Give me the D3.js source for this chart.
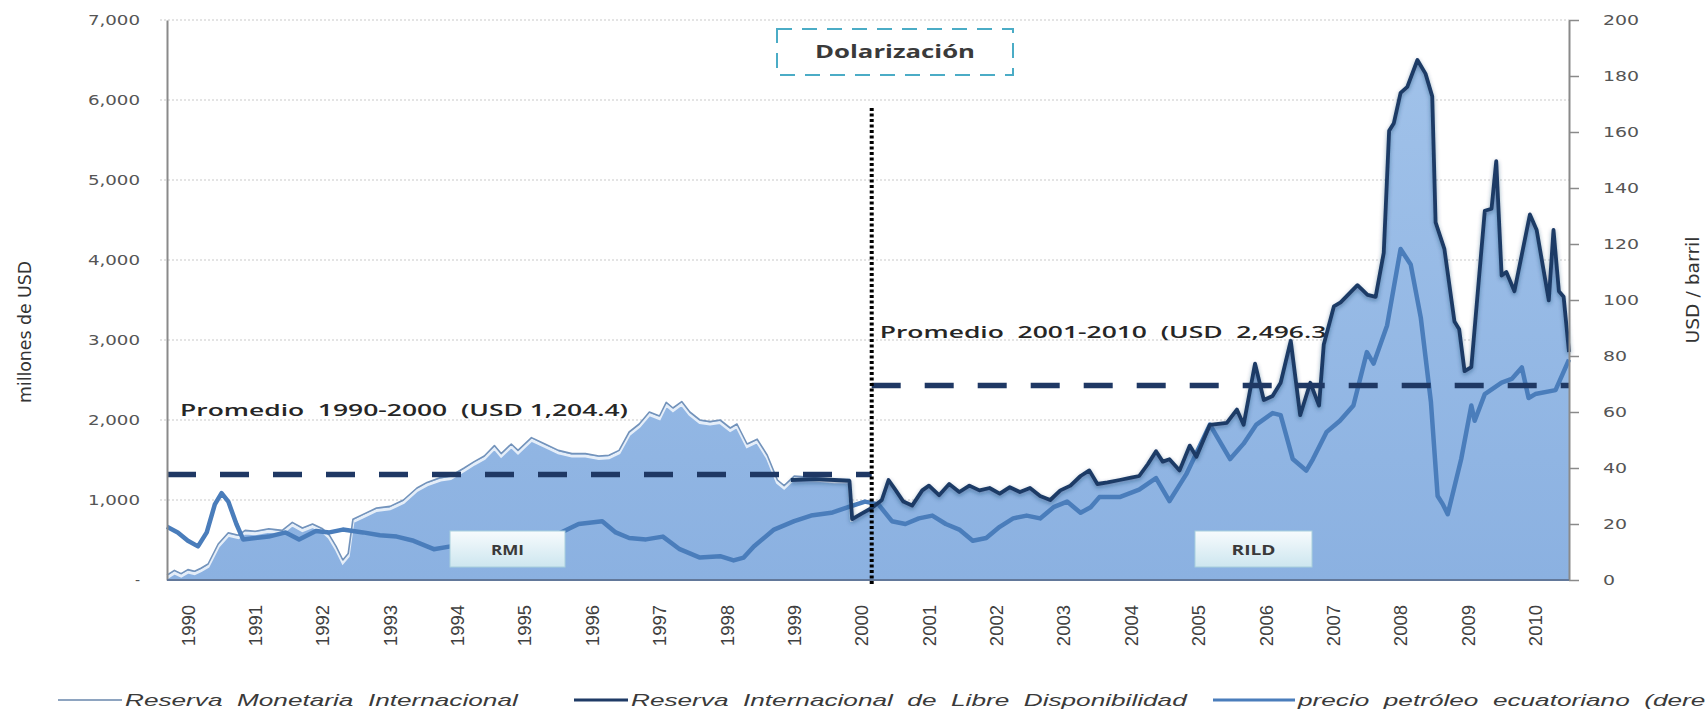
<!DOCTYPE html>
<html>
<head>
<meta charset="utf-8">
<style>
  body { margin: 0; background: #ffffff; }
  svg { display: block; }
</style>
<script src="https://d3js.org/d3.v7.min.js"></script>
</head>
<body>
<script>
// [position on the year axis, value] ; year labels sit on whole numbers
var rmi = [
  [1989.69, 60], [1989.8, 120], [1989.9, 80], [1990.0, 130], [1990.1, 110], [1990.2, 150],
  [1990.3, 200], [1990.45, 450], [1990.6, 590], [1990.75, 560], [1990.85, 620], [1991.0, 610],
  [1991.2, 640], [1991.4, 620], [1991.55, 720], [1991.7, 650], [1991.85, 700], [1992.0, 640],
  [1992.1, 560], [1992.2, 420], [1992.3, 250], [1992.38, 330], [1992.45, 760], [1992.6, 820],
  [1992.8, 900], [1993.0, 920], [1993.2, 1000], [1993.4, 1150], [1993.55, 1220], [1993.75, 1280],
  [1993.9, 1300], [1994.1, 1400], [1994.25, 1480], [1994.4, 1550], [1994.55, 1680], [1994.65, 1580],
  [1994.8, 1700], [1994.9, 1620], [1995.1, 1780], [1995.3, 1700], [1995.5, 1620], [1995.7, 1580],
  [1995.9, 1580], [1996.1, 1550], [1996.25, 1560], [1996.4, 1620], [1996.55, 1850], [1996.7, 1950],
  [1996.85, 2100], [1997.0, 2050], [1997.1, 2220], [1997.2, 2150], [1997.33, 2230], [1997.45, 2100],
  [1997.6, 2000], [1997.75, 1980], [1997.9, 2000], [1998.05, 1900], [1998.15, 1950], [1998.3, 1700],
  [1998.45, 1760], [1998.6, 1560], [1998.75, 1250], [1998.85, 1180], [1999.0, 1300], [1999.3, 1280],
  [1999.6, 1260], [1999.82, 1260], [1999.85, 760]
];

var rild = [
  [1998.95, 1250], [1999.3, 1260], [1999.6, 1250], [1999.82, 1240], [1999.86, 760], [2000.0, 830],
  [2000.15, 900], [2000.3, 1000], [2000.4, 1250], [2000.5, 1130], [2000.62, 980], [2000.75, 930],
  [2000.9, 1120], [2001.0, 1180], [2001.15, 1060], [2001.3, 1200], [2001.45, 1100], [2001.6, 1180],
  [2001.75, 1120], [2001.9, 1150], [2002.05, 1080], [2002.2, 1160], [2002.35, 1100], [2002.5, 1150],
  [2002.65, 1050], [2002.8, 1000], [2002.95, 1120], [2003.1, 1180], [2003.25, 1300], [2003.38, 1370],
  [2003.5, 1200], [2003.65, 1220], [2003.83, 1250], [2004.0, 1280], [2004.12, 1300], [2004.25, 1450],
  [2004.37, 1610], [2004.47, 1480], [2004.57, 1510], [2004.72, 1370], [2004.87, 1680], [2004.97, 1540],
  [2005.17, 1940], [2005.42, 1965], [2005.57, 2130], [2005.67, 1940], [2005.84, 2705], [2005.97, 2250],
  [2006.1, 2300], [2006.22, 2465], [2006.37, 2990], [2006.51, 2060], [2006.66, 2465], [2006.79, 2180],
  [2006.86, 2945], [2007.01, 3420], [2007.11, 3470], [2007.36, 3685], [2007.51, 3565], [2007.63, 3540],
  [2007.75, 4090], [2007.83, 5615], [2007.9, 5710], [2008.0, 6090], [2008.1, 6165], [2008.25, 6500],
  [2008.37, 6330], [2008.47, 6045], [2008.52, 4470], [2008.65, 4140], [2008.8, 3230], [2008.87, 3135],
  [2008.95, 2610], [2009.05, 2660], [2009.25, 4615], [2009.35, 4640], [2009.42, 5235], [2009.5, 3805],
  [2009.57, 3850], [2009.69, 3610], [2009.92, 4570], [2010.02, 4375], [2010.2, 3495], [2010.27, 4375],
  [2010.35, 3610], [2010.42, 3540], [2010.5, 2850]
];

var oil = [
  [1989.69, 19], [1989.85, 17], [1990.0, 14], [1990.15, 12], [1990.28, 17], [1990.4, 27], [1990.5, 31],
  [1990.6, 28], [1990.72, 20], [1990.82, 14.5], [1991.0, 15], [1991.2, 15.5], [1991.45, 17], [1991.65, 14.5],
  [1991.9, 17.5], [1992.1, 17], [1992.3, 18], [1992.6, 17], [1992.85, 16], [1993.1, 15.5], [1993.35, 14],
  [1993.65, 11], [1993.9, 12], [1994.2, 13], [1994.5, 15], [1994.8, 15], [1995.1, 16], [1995.5, 16.5],
  [1995.8, 20], [1996.15, 21], [1996.35, 17], [1996.55, 15], [1996.8, 14.5], [1997.05, 15.5], [1997.3, 11],
  [1997.6, 8], [1997.9, 8.5], [1998.1, 7], [1998.25, 8], [1998.4, 12], [1998.7, 18], [1999.0, 21],
  [1999.25, 23], [1999.55, 24], [1999.8, 26], [2000.05, 28], [2000.25, 27], [2000.45, 21], [2000.65, 20],
  [2000.85, 22], [2001.05, 23], [2001.25, 20], [2001.45, 18], [2001.65, 14], [2001.85, 15], [2002.05, 19],
  [2002.25, 22], [2002.45, 23], [2002.65, 22], [2002.85, 26], [2003.05, 28], [2003.25, 24], [2003.4, 26],
  [2003.53, 29.6], [2003.83, 29.6], [2004.12, 32.3], [2004.37, 36.4], [2004.57, 28.2], [2004.82, 37.8],
  [2005.17, 55.5], [2005.47, 43.2], [2005.67, 48.7], [2005.86, 55.5], [2006.1, 59.6], [2006.22, 58.9],
  [2006.4, 43.2], [2006.6, 39.1], [2006.7, 43.2], [2006.9, 52.8], [2007.1, 56.9], [2007.3, 62.3],
  [2007.5, 81.4], [2007.6, 77.3], [2007.8, 90.9], [2008.0, 118.2], [2008.15, 112.7], [2008.3, 93.7],
  [2008.45, 63.7], [2008.55, 30], [2008.63, 26.9], [2008.7, 23.5], [2008.9, 43.2], [2009.05, 62.3],
  [2009.1, 56.9], [2009.25, 66.4], [2009.5, 70.5], [2009.65, 71.8], [2009.8, 75.9], [2009.9, 65.0],
  [2010.0, 66.4], [2010.3, 67.8], [2010.5, 78.7]
];

var years = d3.range(1990, 2011);
var leftTicks = [0, 1000, 2000, 3000, 4000, 5000, 6000, 7000];
var rightTicks = [0, 20, 40, 60, 80, 100, 120, 140, 160, 180, 200];
var dolarizacion = 2000.15;
var promedios = [
  { label: "Promedio  1990-2000  (USD 1,204.4)", from: 1989.69, to: 2000.15, value: 1320 },
  { label: "Promedio  2001-2010  (USD  2,496.3)", from: 2000.15, to: 2010.5, value: 2430 }
];
var legendItems = ["Reserva  Monetaria  Internacional",
                   "Reserva  Internacional  de  Libre  Disponibilidad",
                   "precio  petróleo  ecuatoriano  (derecha)"];

var W = 1705, H = 709;
var svg = d3.select("body").append("svg").attr("width", W).attr("height", H);
var defs = svg.append("defs");

var grad = defs.append("linearGradient").attr("id", "areaFill")
  .attr("gradientUnits", "userSpaceOnUse").attr("x1", 0).attr("y1", 20).attr("x2", 0).attr("y2", 580);
grad.append("stop").attr("offset", "0%").attr("stop-color", "#a2c3ea");
grad.append("stop").attr("offset", "100%").attr("stop-color", "#8bb1e1");

var boxGrad = defs.append("linearGradient").attr("id", "boxFill")
  .attr("x1", 0).attr("y1", 0).attr("x2", 0).attr("y2", 1);
boxGrad.append("stop").attr("offset", "0%").attr("stop-color", "#f7fbfd");
boxGrad.append("stop").attr("offset", "100%").attr("stop-color", "#cde6ef");

var shadow = defs.append("filter").attr("id", "shadow")
  .attr("x", "-5%").attr("y", "-5%").attr("width", "110%").attr("height", "110%");
shadow.append("feDropShadow").attr("dx", 0).attr("dy", 2).attr("stdDeviation", 2)
  .attr("flood-color", "#1f3864").attr("flood-opacity", 0.45);

var x = d3.scaleLinear().domain([1989.69, 2010.5]).range([167, 1569]);
var yL = d3.scaleLinear().domain([0, 7000]).range([580, 20]);
var yR = d3.scaleLinear().domain([0, 200]).range([580, 20]);

// gridlines
svg.append("g").selectAll("line")
  .data(leftTicks.filter(function(d) { return d > 0; }))
  .enter().append("line")
  .attr("x1", 160).attr("x2", x.range()[1])
  .attr("y1", function(d) { return yL(d); }).attr("y2", function(d) { return yL(d); })
  .attr("stroke", "#c9c9c9").attr("stroke-width", 1).attr("stroke-dasharray", "2,2");

var boldFont = "'Open Sans', 'DejaVu Sans', sans-serif";

// second average label sits under the area
var p2 = promedios[1];
svg.append("text")
  .attr("x", x(p2.from) + 8).attr("y", 338)
  .style("white-space", "pre")
  .attr("font-family", boldFont).attr("font-weight", 600).attr("font-size", 17)
  .attr("fill", "#262626")
  .attr("textLength", 455).attr("lengthAdjust", "spacingAndGlyphs")
  .text(p2.label);

// areas
var area = d3.area()
  .x(function(d) { return x(d[0]); })
  .y0(yL(0))
  .y1(function(d) { return yL(d[1]); });

svg.append("path").datum(rmi).attr("d", area).attr("fill", "url(#areaFill)");
svg.append("path").datum(rild).attr("d", area).attr("fill", "url(#areaFill)");

var lineL = d3.line()
  .x(function(d) { return x(d[0]); })
  .y(function(d) { return yL(d[1]); });
var lineR = d3.line()
  .x(function(d) { return x(d[0]); })
  .y(function(d) { return yR(d[1]); });

// RMI edge with light bevel
svg.append("path").datum(rmi).attr("d", lineL)
  .attr("transform", "translate(0,2.5)")
  .attr("fill", "none").attr("stroke", "#eef4fb").attr("stroke-width", 3).attr("opacity", 0.9);
svg.append("path").datum(rmi).attr("d", lineL)
  .attr("fill", "none").attr("stroke", "#7393bb").attr("stroke-width", 1.6)
  .attr("stroke-linejoin", "round");

// oil price
svg.append("path").datum(oil).attr("d", lineR)
  .attr("fill", "none").attr("stroke", "#4a7dbb").attr("stroke-width", 4.5)
  .attr("stroke-linejoin", "round");

// RILD line
svg.append("path").datum(rild).attr("d", lineL)
  .attr("fill", "none").attr("stroke", "#1f3b66").attr("stroke-width", 3.8)
  .attr("stroke-linejoin", "round").attr("filter", "url(#shadow)");

// label boxes
var boxes = [
  { text: "RMI", x0: 450, x1: 565 },
  { text: "RILD", x0: 1195, x1: 1312 }
];
boxes.forEach(function(b) {
  svg.append("rect")
    .attr("x", b.x0).attr("y", 531).attr("width", b.x1 - b.x0).attr("height", 36)
    .attr("fill", "url(#boxFill)").attr("stroke", "#a8cfdd").attr("stroke-width", 1);
  svg.append("text")
    .attr("x", (b.x0 + b.x1) / 2).attr("y", 555)
    .attr("text-anchor", "middle")
    .attr("font-family", boldFont).attr("font-weight", 700).attr("font-size", 15)
    .attr("fill", "#3a3a3a")
    .attr("textLength", b.text.length * 11).attr("lengthAdjust", "spacingAndGlyphs")
    .text(b.text);
});

// average dashed lines
svg.append("g").selectAll("line")
  .data(promedios).enter().append("line")
  .attr("x1", function(d) { return x(d.from); })
  .attr("x2", function(d) { return x(d.to); })
  .attr("y1", function(d) { return yL(d.value); })
  .attr("y2", function(d) { return yL(d.value); })
  .attr("stroke", "#1f3864").attr("stroke-width", 5.5).attr("stroke-dasharray", "29,24");

// first average label
svg.append("text")
  .attr("x", 180).attr("y", 416)
  .style("white-space", "pre")
  .attr("font-family", boldFont).attr("font-weight", 600).attr("font-size", 17)
  .attr("fill", "#262626")
  .attr("textLength", 448).attr("lengthAdjust", "spacingAndGlyphs")
  .text(promedios[0].label);

// dollarization marker
svg.append("line")
  .attr("x1", x(dolarizacion)).attr("x2", x(dolarizacion))
  .attr("y1", 108).attr("y2", 586)
  .attr("stroke", "#000").attr("stroke-width", 4).attr("stroke-dasharray", "3,2.5");

svg.append("rect")
  .attr("x", 777).attr("y", 29).attr("width", 236).attr("height", 46)
  .attr("fill", "#ffffff").attr("stroke", "#4bacc6").attr("stroke-width", 2)
  .attr("stroke-dasharray", "15,10");
svg.append("text")
  .attr("x", 895).attr("y", 58).attr("text-anchor", "middle")
  .attr("font-family", boldFont).attr("font-weight", 700).attr("font-size", 17)
  .attr("fill", "#3a3a3a")
  .attr("textLength", 160).attr("lengthAdjust", "spacingAndGlyphs")
  .text("Dolarización");

// axes
var numFont = "'DejaVu Sans', Verdana, sans-serif";
var leftAxis = svg.append("g")
  .attr("transform", "translate(167,0)")
  .call(d3.axisLeft(yL).tickValues(leftTicks).tickSize(0).tickPadding(27)
    .tickFormat(function(d) { return d === 0 ? "-" : d3.format(",")(d); }));
leftAxis.select(".domain").attr("stroke", "#8a8a8a").attr("stroke-width", 2);
leftAxis.selectAll("text")
  .attr("font-family", numFont).attr("font-size", 14).attr("fill", "#555")
  .each(function() {
    var t = d3.select(this);
    var len = this.getComputedTextLength();
    if (len > 10) t.attr("textLength", len * 1.3).attr("lengthAdjust", "spacingAndGlyphs");
  });

var rightAxis = svg.append("g")
  .attr("transform", "translate(1569,0)")
  .call(d3.axisRight(yR).tickValues(rightTicks).tickSize(10).tickPadding(24).tickSizeOuter(0));
rightAxis.select(".domain").attr("stroke", "#8a8a8a").attr("stroke-width", 2);
rightAxis.selectAll(".tick line").attr("stroke", "#8a8a8a").attr("stroke-width", 1.5);
rightAxis.selectAll("text")
  .attr("font-family", numFont).attr("font-size", 14).attr("fill", "#555")
  .each(function() {
    var len = this.getComputedTextLength();
    d3.select(this).attr("textLength", len * 1.35).attr("lengthAdjust", "spacingAndGlyphs");
  });

// baseline of the plot
svg.append("line")
  .attr("x1", x.range()[0]).attr("x2", x.range()[1])
  .attr("y1", yL(0)).attr("y2", yL(0))
  .attr("stroke", "#62789a").attr("stroke-width", 2);

// year labels
svg.append("g").selectAll("text")
  .data(years).enter().append("text")
  .attr("transform", function(d) { return "translate(" + x(d) + ",605) rotate(-90)"; })
  .attr("text-anchor", "end").attr("dy", "0.36em")
  .attr("font-family", "'Liberation Sans', Arial, sans-serif").attr("font-size", 18.5)
  .attr("fill", "#404040")
  .text(function(d) { return d; });

// axis titles
svg.append("text")
  .attr("transform", "translate(31,332) rotate(-90)")
  .attr("text-anchor", "middle")
  .attr("font-family", "'Liberation Sans Narrow', 'DejaVu Sans Condensed', sans-serif")
  .attr("font-size", 17).attr("fill", "#333")
  .attr("textLength", 142).attr("lengthAdjust", "spacingAndGlyphs")
  .text("millones de USD");
svg.append("text")
  .attr("transform", "translate(1699,290) rotate(-90)")
  .attr("text-anchor", "middle")
  .attr("font-family", "'Liberation Sans Narrow', 'DejaVu Sans Condensed', sans-serif")
  .attr("font-size", 17).attr("fill", "#333")
  .attr("textLength", 107).attr("lengthAdjust", "spacingAndGlyphs")
  .text("USD / barril");

// legend
var legendStyle = [
  { x0: 58, x1: 122, color: "#8ea4c0", width: 2 },
  { x0: 574, x1: 628, color: "#1f3b66", width: 3 },
  { x0: 1213, x1: 1295, color: "#4a7dbb", width: 3 }
];
var legend = svg.append("g");
var stretch = 1;
legendItems.forEach(function(label, i) {
  var s = legendStyle[i];
  legend.append("line")
    .attr("x1", s.x0).attr("x2", s.x1).attr("y1", 700).attr("y2", 700)
    .attr("stroke", s.color).attr("stroke-width", s.width);
  var t = legend.append("text")
    .attr("class", "leg")
    .style("white-space", "pre")
    .attr("font-family", "'Liberation Sans', Arial, sans-serif")
    .attr("font-style", "italic").attr("font-size", 17).attr("fill", "#3a3a3a")
    .text(label);
  if (i === 1) stretch = 556 / t.node().getComputedTextLength();
});
legend.selectAll("text.leg").each(function(d, i) {
  d3.select(this).attr("transform",
    "translate(" + (legendStyle[i].x1 + 3) + ",706) scale(" + stretch + ",1)");
});
</script>
</body>
</html>
